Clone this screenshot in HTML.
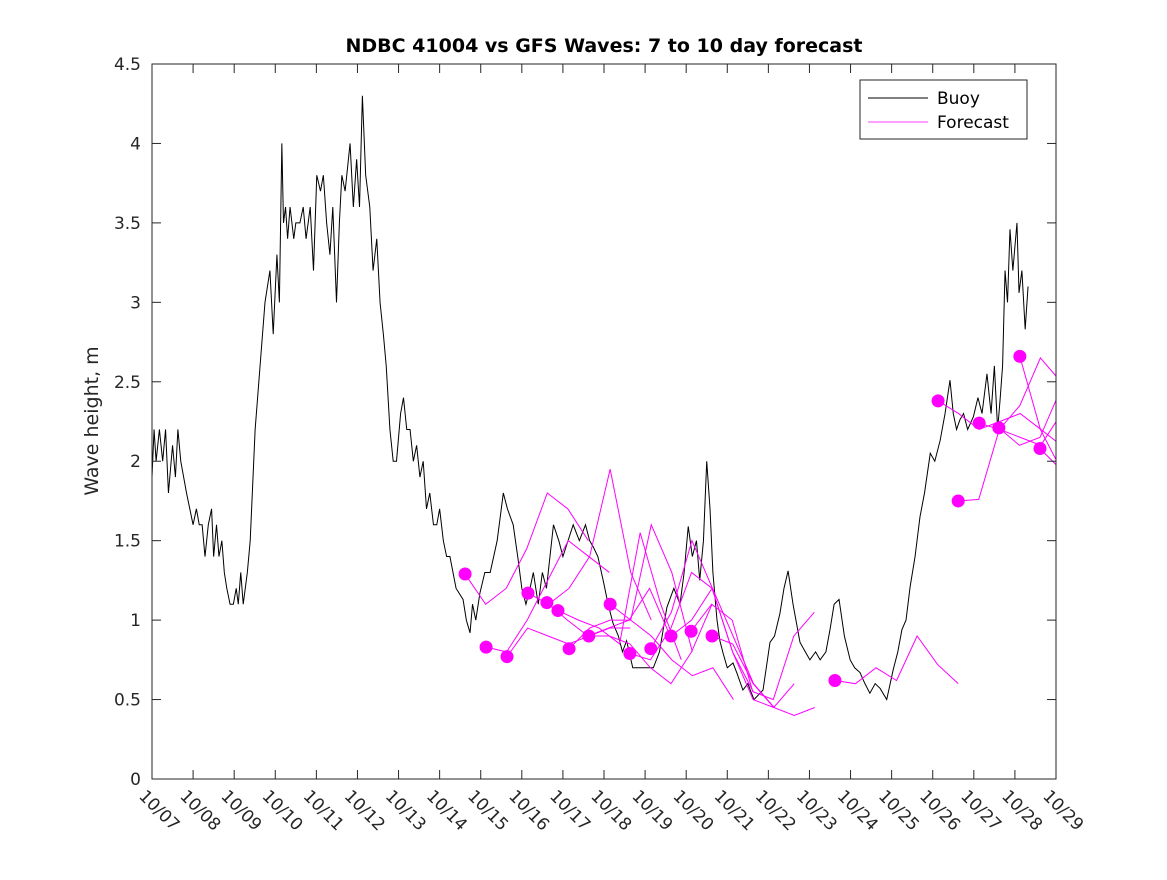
<!DOCTYPE html>
<html><head><meta charset="utf-8"><style>
body{margin:0;background:#fff;}
svg text{font-family:"DejaVu Sans","Liberation Sans",sans-serif;}
</style></head><body>
<svg id="chart" width="1167" height="875">
<rect x="0" y="0" width="1167" height="875" fill="#fff"/>
<text x="604" y="52" text-anchor="middle" font-size="19" font-weight="bold">NDBC 41004 vs GFS Waves: 7 to 10 day forecast</text>
<text transform="translate(98,421) rotate(-90)" text-anchor="middle" font-size="19" fill="#262626">Wave height, m</text>
<defs><clipPath id="pc"><rect x="152" y="64" width="904" height="715"/></clipPath></defs>
<g id="series" clip-path="url(#pc)"></g>
<rect x="152" y="64" width="904" height="715" fill="none" stroke="#262626" stroke-width="1"/>
<g id="axes"></g>
<g>
<rect x="860" y="80" width="167" height="59" fill="#fff" stroke="#262626"/>
<line x1="868" y1="98" x2="928" y2="98" stroke="#000"/>
<text x="937" y="104" font-size="17">Buoy</text>
<line x1="868" y1="122" x2="928" y2="122" stroke="#f0f" stroke-width="0.8"/>
<text x="937" y="128" font-size="17">Forecast</text>
</g>
</svg>
<script>
const xTickLabels=["10/07","10/08","10/09","10/10","10/11","10/12","10/13","10/14","10/15","10/16","10/17","10/18","10/19","10/20","10/21","10/22","10/23","10/24","10/25","10/26","10/27","10/28","10/29"];
const yTicks=[0,0.5,1,1.5,2,2.5,3,3.5,4,4.5];
const buoyDays=[0,0.05,0.1,0.18,0.26,0.33,0.4,0.5,0.57,0.63,0.7,0.84,0.92,1.0,1.08,1.15,1.22,1.29,1.37,1.45,1.5,1.57,1.63,1.7,1.76,1.82,1.9,1.98,2.05,2.1,2.16,2.22,2.32,2.39,2.51,2.63,2.75,2.87,2.95,3.04,3.1,3.16,3.2,3.25,3.3,3.36,3.45,3.5,3.6,3.68,3.75,3.85,3.93,4.01,4.1,4.17,4.25,4.33,4.4,4.49,4.56,4.62,4.7,4.82,4.9,4.98,5.05,5.12,5.2,5.3,5.38,5.47,5.55,5.63,5.7,5.79,5.87,5.95,6.05,6.12,6.2,6.28,6.36,6.44,6.52,6.6,6.68,6.76,6.85,6.93,7.0,7.09,7.17,7.25,7.4,7.57,7.65,7.74,7.8,7.88,7.98,8.1,8.23,8.4,8.55,8.65,8.79,8.9,9.0,9.1,9.2,9.28,9.4,9.5,9.6,9.77,9.9,10.0,10.1,10.25,10.4,10.55,10.65,10.74,10.85,10.98,11.1,11.22,11.35,11.45,11.55,11.7,11.88,12.05,12.2,12.35,12.53,12.7,12.85,12.95,13.05,13.15,13.25,13.33,13.42,13.5,13.58,13.65,13.75,13.82,13.9,14.0,14.14,14.23,14.38,14.5,14.65,14.87,15.04,15.15,15.28,15.38,15.48,15.6,15.77,15.9,16.01,16.15,16.26,16.4,16.5,16.6,16.72,16.85,16.99,17.1,17.23,17.35,17.47,17.6,17.72,17.88,18.04,18.15,18.25,18.35,18.45,18.57,18.69,18.8,18.94,19.05,19.18,19.3,19.42,19.5,19.58,19.66,19.75,19.85,19.99,20.1,20.2,20.32,20.42,20.5,20.58,20.64,20.7,20.76,20.82,20.88,20.95,21.05,21.1,21.17,21.25,21.32];
const buoyValues=[1.9,2.2,2.0,2.2,2.0,2.2,1.8,2.1,1.9,2.2,2.0,1.8,1.7,1.6,1.7,1.6,1.6,1.4,1.6,1.7,1.4,1.6,1.4,1.5,1.3,1.2,1.1,1.1,1.2,1.1,1.3,1.1,1.3,1.5,2.2,2.6,3.0,3.2,2.8,3.3,3.0,4.0,3.5,3.6,3.4,3.6,3.4,3.5,3.5,3.6,3.4,3.6,3.2,3.8,3.7,3.8,3.5,3.3,3.6,3.0,3.5,3.8,3.7,4.0,3.6,3.9,3.6,4.3,3.8,3.6,3.2,3.4,3.0,2.8,2.6,2.2,2.0,2.0,2.3,2.4,2.2,2.2,2.0,2.1,1.9,2.0,1.7,1.8,1.6,1.6,1.7,1.5,1.4,1.4,1.2,1.13,1.0,0.92,1.1,1.0,1.17,1.3,1.3,1.5,1.8,1.7,1.6,1.4,1.2,1.1,1.2,1.3,1.1,1.3,1.2,1.6,1.5,1.4,1.48,1.6,1.5,1.6,1.5,1.46,1.4,1.25,1.1,0.98,0.9,0.8,0.87,0.7,0.7,0.7,0.7,0.8,1.08,1.2,1.1,1.3,1.59,1.4,1.5,1.25,1.5,2.0,1.7,1.3,1.0,0.87,0.79,0.7,0.73,0.67,0.56,0.6,0.5,0.56,0.86,0.9,1.04,1.2,1.31,1.1,0.86,0.8,0.75,0.8,0.75,0.8,0.94,1.1,1.13,0.9,0.75,0.7,0.67,0.6,0.54,0.6,0.57,0.5,0.69,0.8,0.94,1.0,1.21,1.4,1.65,1.8,2.05,2.0,2.13,2.3,2.51,2.3,2.2,2.26,2.3,2.2,2.28,2.4,2.3,2.55,2.3,2.6,2.2,2.39,2.6,3.2,3.0,3.46,3.2,3.5,3.06,3.2,2.83,3.1];
const fcStep=0.5;
const fcStarts=[7.62,8.13,8.64,9.15,9.61,9.88,10.15,10.63,11.15,11.63,12.14,12.63,13.12,13.63,16.62,19.13,19.62,20.13,20.61,21.12,21.61];
const fcValues=[
[1.29,1.1,1.2,1.45,1.8,1.7,1.5],
[0.83,0.8,1.0,1.25,1.5,1.4,1.3],
[0.77,0.95,0.9,0.85,0.9,0.95,0.95],
[1.17,1.1,1.2,1.4,1.95,1.3,1.0],
[1.11,1.0,0.9,0.95,1.0,1.2,0.9],
[1.06,1.0,0.95,0.85,1.55,1.1,0.75],
[0.82,0.95,1.0,1.0,1.6,1.3,0.8],
[0.9,0.9,0.85,0.7,0.6,0.8,1.1],
[1.1,1.0,0.9,0.75,0.65,0.7,0.5],
[0.79,0.75,0.95,1.3,1.2,0.8,0.55],
[0.82,1.05,1.5,1.2,0.9,0.6,0.45],
[0.9,1.0,1.2,0.8,0.5,0.45,0.6],
[0.93,1.1,1.0,0.55,0.5,0.9,1.05],
[0.9,0.85,0.6,0.45,0.4,0.45],
[0.62,0.6,0.7,0.62,0.9,0.72,0.6],
[2.38,2.3,2.2,2.25,2.3,2.2,2.1],
[1.75,1.76,2.2,2.35,2.65,2.5],
[2.24,2.2,2.15,2.1,2.3,2.6,2.5],
[2.21,2.1,2.15,2.45,2.65,2.1,1.9],
[2.66,2.2,1.95,2.0],
[2.08,1.95,2.0]];
const X=d=>152+d*904/22, Y=v=>779-v*715/4.5;
const NS="http://www.w3.org/2000/svg";
function mk(t,a,p){const e=document.createElementNS(NS,t);for(const k in a)e.setAttribute(k,a[k]);p.appendChild(e);return e;}
const axes=document.getElementById('axes'), ser=document.getElementById('series');
yTicks.forEach(v=>{
 const l=mk('line',{x1:152,x2:161,y1:Y(v),y2:Y(v),stroke:'#262626'},axes);
 
 
 const r=mk('line',{x1:1047,x2:1056,y1:Y(v),y2:Y(v),stroke:'#262626'},axes);
 
 
 const t=mk('text',{x:141,y:Y(v)+6,'text-anchor':'end','font-size':17,fill:'#262626'},axes);
 t.textContent=String(v);
 
 
});
xTickLabels.forEach((s,i)=>{
 const l=mk('line',{x1:X(i),x2:X(i),y1:779,y2:770,stroke:'#262626'},axes);
 
 
 const u=mk('line',{x1:X(i),x2:X(i),y1:64,y2:73,stroke:'#262626'},axes);
 
 
 const t=mk('text',{x:0,y:0,'font-size':17,fill:'#262626',transform:`translate(${X(i)-14},${797}) rotate(45)`},axes);
 t.textContent=s;
 
 
});
const bp=mk('polyline',{points:buoyValues.map((v,i)=>X(buoyDays[i])+','+Y(v)).join(' '),fill:'none',stroke:'#000','stroke-width':1},ser);


fcStarts.forEach((s,k)=>{
 const vals=fcValues[k];
 const p=mk('polyline',{points:vals.map((v,i)=>X(s+i*fcStep)+','+Y(v)).join(' '),fill:'none',stroke:'#f0f','stroke-width':1},ser);
 
 
});
fcStarts.forEach((s,k)=>{
 const c=mk('circle',{cx:X(s),cy:Y(fcValues[k][0]),r:6.5,fill:'#f0f'},ser);
 
 
});
</script>
</body></html>
